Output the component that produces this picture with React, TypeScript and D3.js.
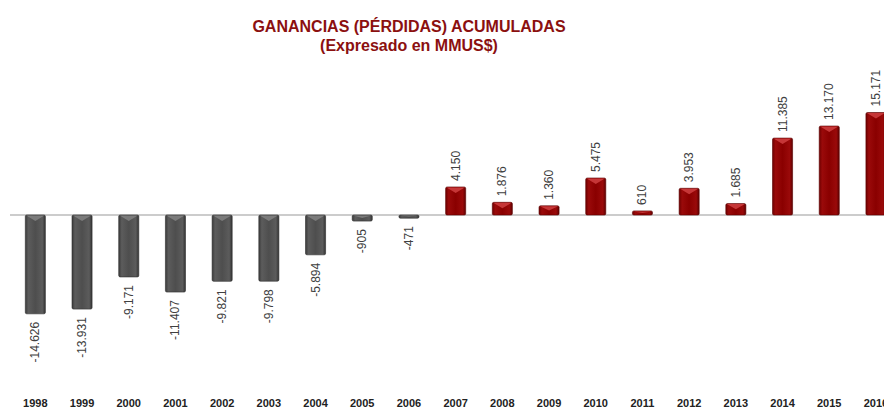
import { useEffect, useRef } from "react";
import * as d3 from "d3";

const years = [
  "1998", "1999", "2000", "2001", "2002", "2003", "2004", "2005", "2006", "2007",
  "2008", "2009", "2010", "2011", "2012", "2013", "2014", "2015", "2016",
];
const values = [
  -14626, -13931, -9171, -11407, -9821, -9798, -5894, -905, -471, 4150,
  1876, 1360, 5475, 610, 3953, 1685, 11385, 13170, 15171,
];
const titleLines = ["GANANCIAS (PÉRDIDAS) ACUMULADAS", "(Expresado en MMUS$)"];

const fmt = (v: number) => {
  const s = Math.abs(v).toString().replace(/\B(?=(\d{3})+(?!\d))/g, ".");
  return (v < 0 ? "-" : "") + s;
};

export default function App() {
  const svgRef = useRef<SVGSVGElement | null>(null);

  useEffect(() => {
    if (!svgRef.current) return;
    const svg = d3.select(svgRef.current);
    svg.selectAll("*").remove();

    const width = 884;
    const height = 408;
    const zeroY = 215;
    const font = "'Liberation Sans', Arial, sans-serif";

    const x = d3
      .scaleBand<string>()
      .domain(years)
      .range([12, 12 + years.length * 46.7])
      .paddingInner(0.57)
      .paddingOuter(0.285);

    // 1 px ~ 148 units
    const y = d3.scaleLinear().domain([-15171, 15171]).range([zeroY + 102.5, zeroY - 102.5]);

    const defs = svg.append("defs");
    const mkGrad = (id: string, stops: [number, string][]) => {
      const g = defs.append("linearGradient").attr("id", id).attr("x1", "0").attr("x2", "1").attr("y1", "0").attr("y2", "0");
      stops.forEach(([o, c]) => g.append("stop").attr("offset", `${o * 100}%`).attr("stop-color", c));
    };
    mkGrad("gRed", [[0, "#6e0000"], [0.15, "#9a0a0a"], [0.5, "#8a0000"], [0.85, "#9a0a0a"], [1, "#5e0000"]]);
    mkGrad("gGray", [[0, "#3a3a3a"], [0.15, "#5c5c5c"], [0.5, "#4e4e4e"], [0.85, "#5c5c5c"], [1, "#333"]]);

    svg.attr("width", width).attr("height", height);

    // Title
    titleLines.forEach((t, i) => {
      svg
        .append("text")
        .attr("x", 409)
        .attr("y", 32 + i * 18.5)
        .attr("text-anchor", "middle")
        .attr("fill", "#8b1010")
        .style("font-family", font)
        .style("font-weight", "bold")
        .style("font-size", "16px")
        .text(t);
    });

    // zero line
    svg
      .append("line")
      .attr("x1", 10)
      .attr("x2", width)
      .attr("y1", zeroY)
      .attr("y2", zeroY)
      .attr("stroke", "#9a9a9a")
      .attr("stroke-width", 1.2);

    const data = years.map((yr, i) => ({ yr, v: values[i] }));
    const bw = x.bandwidth();

    const bars = svg.selectAll("g.bar").data(data).enter().append("g").attr("class", "bar");

    bars
      .append("rect")
      .attr("x", (d) => x(d.yr)!)
      .attr("y", (d) => Math.min(y(d.v), y(0)))
      .attr("width", bw)
      .attr("height", (d) => Math.max(3, Math.abs(y(d.v) - y(0))))
      .attr("rx", 1.5)
      .attr("fill", (d) => (d.v < 0 ? "url(#gGray)" : "url(#gRed)"))
      .attr("stroke", (d) => (d.v < 0 ? "#2e2e2e" : "#5a0000"))
      .attr("stroke-width", 0.6);

    // bevel highlight at the top end
    bars
      .append("path")
      .attr("d", (d) => {
        const x0 = x(d.yr)!;
        const h = Math.max(3, Math.abs(y(d.v) - y(0)));
        const bev = Math.min(6, h / 2);
        const yEdge = d.v < 0 ? y(0) : y(d.v);
        return `M${x0 + 1},${yEdge + 0.5} L${x0 + bw - 1},${yEdge + 0.5} L${x0 + bw / 2},${yEdge + bev} Z`;
      })
      .attr("fill", (d) => (d.v < 0 ? "#8a8a8a" : "#d8484a"))
      .attr("opacity", 0.75);

    // value labels
    bars
      .append("text")
      .attr("transform", (d) => {
        const cx = x(d.yr)! + bw / 2 + 4;
        const yy = d.v < 0 ? y(d.v) + 8 : y(d.v) - 6;
        return `translate(${cx},${yy}) rotate(-90)`;
      })
      .attr("text-anchor", (d) => (d.v < 0 ? "end" : "start"))
      .attr("fill", "#404040")
      .style("font-family", font)
      .style("font-size", "12px")
      .text((d) => fmt(d.v));

    // year labels
    svg
      .selectAll("text.yr")
      .data(years)
      .enter()
      .append("text")
      .attr("class", "yr")
      .attr("x", (d) => x(d)! + bw / 2)
      .attr("y", 407)
      .attr("text-anchor", "middle")
      .attr("fill", "#222")
      .style("font-family", font)
      .style("font-weight", "bold")
      .style("font-size", "11px")
      .text((d) => d);
  }, []);

  return (
    <div style={{ position: "fixed", left: 0, top: 0, width: 884, height: 408, background: "#fff", overflow: "hidden" }}>
      <svg ref={svgRef}></svg>
    </div>
  );
}
